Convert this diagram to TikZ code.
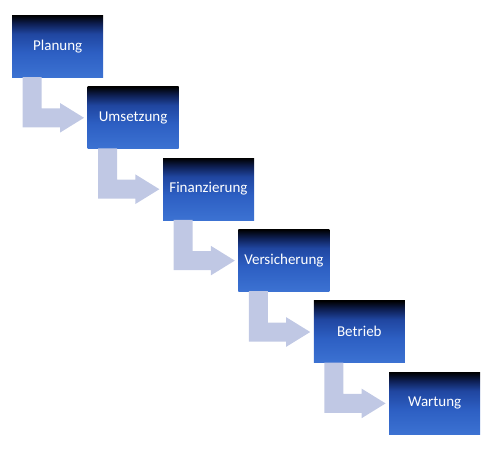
\documentclass[tikz,border=0pt]{standalone}
\usepackage{fontspec}
\setmainfont{Carlito}
\usetikzlibrary{calc}
\definecolor{arrowcol}{RGB}{192,200,228}
\definecolor{bA}{RGB}{60,114,210}
\definecolor{bB}{RGB}{45,95,195}
\definecolor{bC}{RGB}{32,70,160}
\definecolor{bD}{RGB}{14,32,85}
\pgfdeclareverticalshading{boxshade}{100bp}{color(0bp)=(bA); color(25bp)=(bA); color(45bp)=(bB); color(60bp)=(bC); color(68bp)=(bD); color(75bp)=(black); color(100bp)=(black)}
\tikzset{
  stepbox/.style={rectangle, shading=boxshade, minimum width=91pt, minimum height=62pt, inner sep=0pt, text=white, font=\fontsize{15}{18}\selectfont, anchor=north west},
  bendarrow/.style={fill=arrowcol, draw=none}
}
\begin{document}
\begin{tikzpicture}[x=1pt,y=-1pt]
\useasboundingbox (0,0) rectangle (492,448);
\foreach \i/\name/\txt in {0/b0/Planung,1/b1/Umsetzung,2/b2/Finanzierung,3/b3/Versicherung,4/b4/Betrieb,5/b5/Wartung}{
  \node[stepbox] (\name) at ({12+75.4*\i},{15+71.4*\i}) {\txt};
}
\foreach \a in {b0,b1,b2,b3,b4}{
  \begin{scope}[shift={(\a.north west)}]
    \fill[bendarrow] (10.7,62) -- (29.7,62) -- (29.7,93.3) -- (48,93.3) -- (48,88) -- (72,102.8) -- (48,117.6) -- (48,112.3) -- (10.7,112.3) -- cycle;
  \end{scope}
}
\end{tikzpicture}
\end{document}
